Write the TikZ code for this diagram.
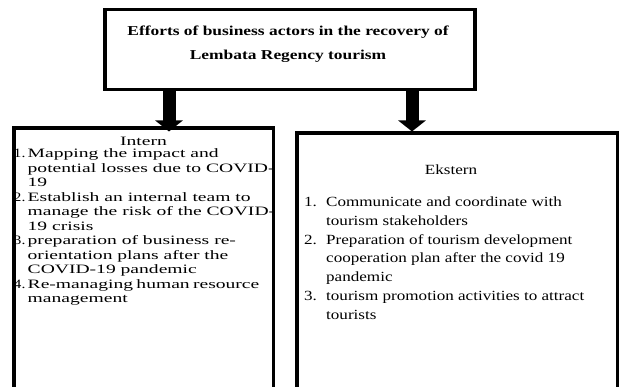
\documentclass[tikz,border=0pt]{standalone}
\usepackage{fontspec}
\setmainfont{Liberation Serif}
\newfontfamily\titlefont{Liberation Serif}[FakeStretch=1.28]
\newfontfamily\leftfont{Liberation Serif}[FakeStretch=1.53]
\newfontfamily\rightfont{Liberation Serif}[FakeStretch=1.22]
\usetikzlibrary{arrows.meta}
\tikzset{
  boxline/.style={line width=3.5pt, line join=miter},
  blockarrow/.style={line width=13pt, -{Triangle[width=27pt 0 0, length=11pt 0 0]}},
  ttl/.style={inner sep=0pt, anchor=base, font=\titlefont\bfseries\fontsize{13.6}{24}\selectfont},
  ltxt/.style={inner sep=0pt, anchor=base west, font=\leftfont\fontsize{12.8}{14.5}\selectfont},
  lnum/.style={inner sep=0pt, anchor=base west, font=\rightfont\fontsize{12.8}{14.5}\selectfont},
  rtxt/.style={inner sep=0pt, anchor=base west, font=\rightfont\fontsize{14}{18.8}\selectfont},
}
\begin{document}
\begin{tikzpicture}[x=1pt, y=-1pt]
\useasboundingbox (0,0) rectangle (624,387);
\fill[white] (0,0) rectangle (624,387);
% boxes
\node[boxline, draw, minimum width=370pt, minimum height=80pt, inner sep=0pt, anchor=north west] (T) at (103,8) {};
\node[minimum width=259pt, minimum height=270pt, inner sep=0pt, anchor=north west] (L) at (14,128) {};
\node[minimum width=320pt, minimum height=270pt, inner sep=0pt, anchor=north west] (R) at (297,133) {};
\draw[boxline] (L.south west) -- (L.north west) -- (L.north east) -- (L.south east);
\draw[boxline] (R.south west) -- (R.north west) -- (R.north east) -- (R.south east);
% arrows
\coordinate (A1) at (169,0);
\coordinate (A2) at (412,0);
\draw[blockarrow, shorten >=-3.5pt] (T.south -| A1) -- (L.north -| A1);
\draw[blockarrow, shorten >=1.5pt] (T.south -| A2) -- (R.north -| A2);
% title
\node[ttl] (t1) at (288,35.5) {Efforts of business actors in the recovery of};
\node[ttl] (t2) at (288,59.5) {Lembata Regency tourism};
% left box
\node[ltxt, anchor=base] (lh) at (143.5,146) {Intern};
\node[lnum] (ln1) at (13.5,158) {1.};
\node[lnum] (ln2) at (13.5,201.5) {2.};
\node[lnum] (ln3) at (13.5,245) {3.};
\node[lnum] (ln4) at (13.5,288.5) {4.};
\foreach \t [count=\i from 0] in {
  {Mapping the impact and},
  {potential losses due to COVID-},
  {19},
  {Establish an internal team to},
  {manage the risk of the COVID-},
  {19 crisis},
  {preparation of business re-},
  {orientation plans after the},
  {COVID-19 pandemic},
  {\makebox[229pt][s]{Re-managing human resource}},
  {management}}
  \node[ltxt] (l\i) at (27.5,158+14.5*\i) {\t};
% right box
\node[rtxt, anchor=base] (rh) at (451,174.5) {Ekstern};
\node[rtxt] (rn1) at (304,206.5) {1.};
\node[rtxt] (rn2) at (304,244.2) {2.};
\node[rtxt] (rn3) at (304,300.7) {3.};
\foreach \t [count=\i from 0] in {
  {Communicate and coordinate with},
  {tourism stakeholders},
  {Preparation of tourism development},
  {cooperation plan after the covid 19},
  {pandemic},
  {tourism promotion activities to attract},
  {tourists}}
  \node[rtxt] (r\i) at (326,206.5+18.83*\i) {\t};
\end{tikzpicture}
\end{document}
